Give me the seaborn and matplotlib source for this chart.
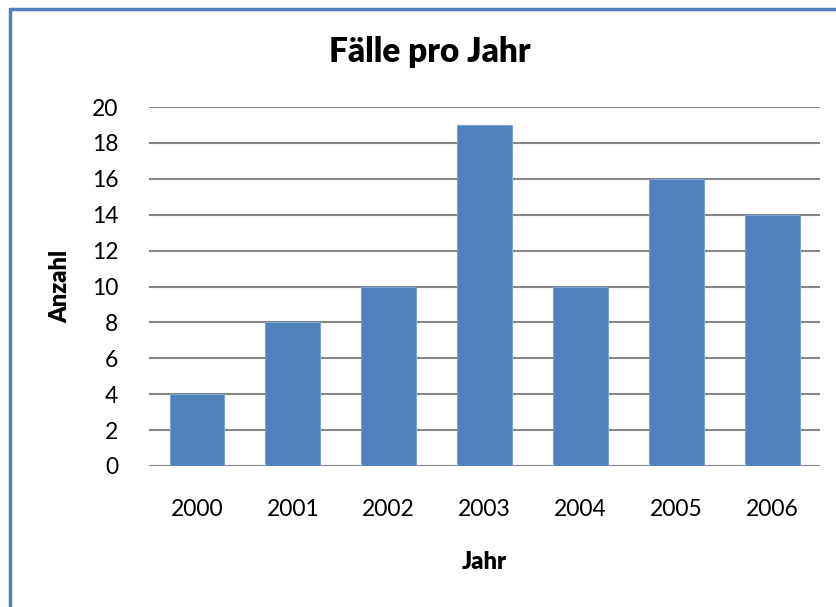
import matplotlib
matplotlib.use("Agg")
import matplotlib.pyplot as plt
import matplotlib.lines as mlines
import pandas as pd
import seaborn as sns

# Data
years = ["2000", "2001", "2002", "2003", "2004", "2005", "2006"]
counts = [4, 8, 10, 19, 10, 16, 14]
y_ticks = [0, 2, 4, 6, 8, 10, 12, 14, 16, 18, 20]

BAR_COLOR = "#4F81BD"
GRID_COLOR = "#868686"

sns.set_theme(style="white")
plt.rcParams['font.family'] = ['Lato', 'DejaVu Sans']
plt.rcParams['text.color'] = 'black'

df = pd.DataFrame({'Jahr': years, 'Anzahl': counts})

fig = plt.figure(figsize=(8.37, 6.07), dpi=100)
ax = fig.add_axes([0.178, 0.2323, 0.802, 0.5914])

ax.set_axisbelow(True)
for t in y_ticks:
    ax.axhline(t, color=GRID_COLOR, lw=1.5, zorder=0)

sns.barplot(data=df, x='Jahr', y='Anzahl', color=BAR_COLOR, saturation=1,
            width=0.571, edgecolor="#7FA3D3", linewidth=0.8, ax=ax, zorder=2)

ax.set_ylim(0, 20)
ax.set_xlim(-0.5, len(years) - 0.5)
ax.set_yticks(y_ticks)
ax.tick_params(axis='both', length=0, labelsize=16.5, colors='black')
ax.tick_params(axis='y', pad=22)
ax.tick_params(axis='x', pad=24)
for s in ax.spines.values():
    s.set_visible(False)

ax.set_xlabel("")
ax.set_ylabel("")
fig.text(0.5783, 1 - 562 / 607, "Jahr", ha='center', va='center',
         fontsize=17, fontweight='heavy')
fig.text(60 / 837, 1 - 286 / 607, "Anzahl", ha='center', va='center',
         rotation=90, fontsize=17, fontweight='heavy')
fig.text(430 / 837, 1 - 52 / 607, "Fälle pro Jahr", ha='center', va='center',
         fontsize=24, fontweight='heavy')

# outer chart frame (only left and top visible)
fig.add_artist(mlines.Line2D([10 / 837, 10 / 837], [0, 1 - 8.5 / 607],
                             color=BAR_COLOR, lw=2.5, transform=fig.transFigure))
fig.add_artist(mlines.Line2D([10 / 837, 1], [1 - 8.5 / 607, 1 - 8.5 / 607],
                             color=BAR_COLOR, lw=2.5, transform=fig.transFigure))

fig.savefig("out.png", dpi=100, facecolor="white")
